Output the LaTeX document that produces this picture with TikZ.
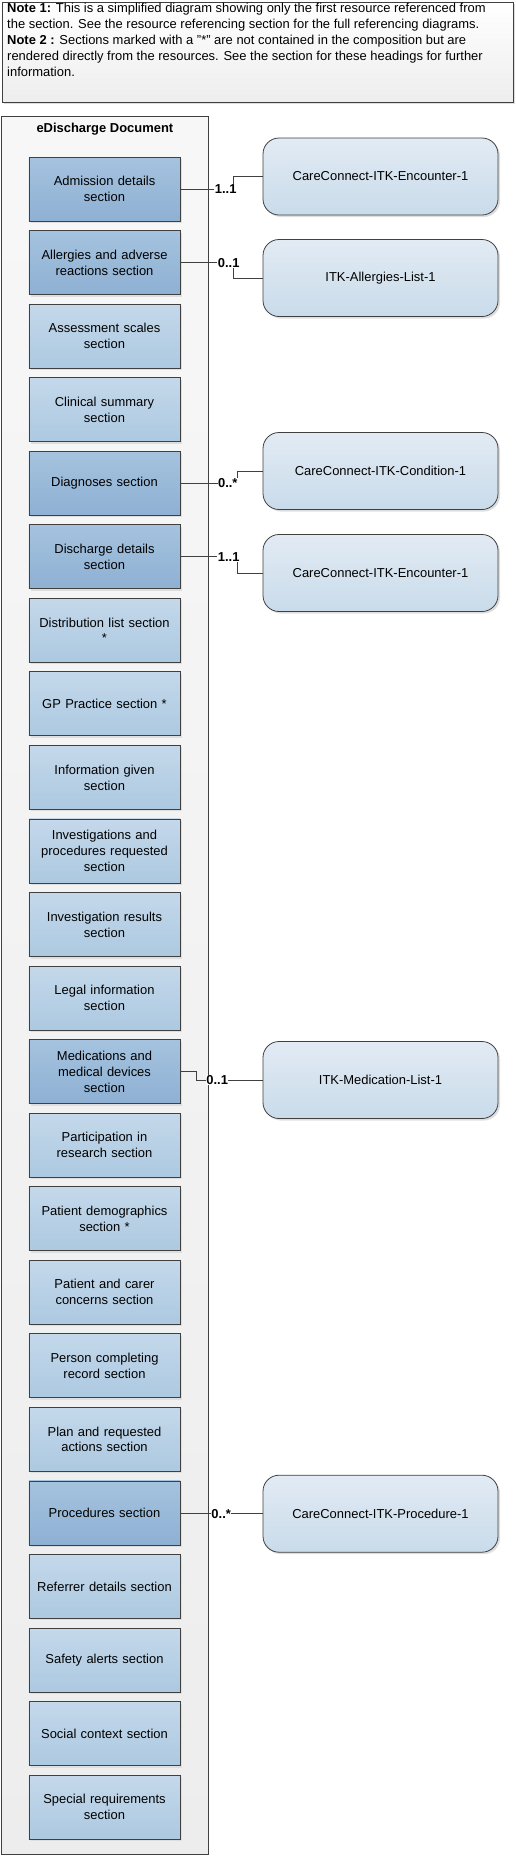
\documentclass[tikz,border=0pt]{standalone}
\usepackage{fontspec}
\setmainfont{Liberation Sans}
\usepackage{tikz}
\usetikzlibrary{positioning,shadows}
\definecolor{edline}{HTML}{404040}
\definecolor{secdarktop}{HTML}{A5C3DF}
\definecolor{secdarkbot}{HTML}{8EB0D3}
\definecolor{seclighttop}{HTML}{C4D8EA}
\definecolor{seclightbot}{HTML}{ACC9E1}
\definecolor{restop}{HTML}{E2EBF4}
\definecolor{resbot}{HTML}{C9DBEA}

\begin{document}
\begin{tikzpicture}[
    x=1bp, y=-1bp,
    font=\fontsize{13}{16}\selectfont,
    node distance=8.75bp,
    shade/.style={drop shadow={shadow xshift=2bp, shadow yshift=-2bp, fill=black!13, opacity=1}},
    notebox/.style={draw=edline, line width=0.8bp, top color=white, bottom color=black!7, shade,
                minimum width=511bp, minimum height=100bp, inner sep=0pt},
    docbox/.style={draw=edline, line width=0.8bp, top color=black!3, bottom color=black!7,
                minimum width=207bp, minimum height=1738bp, inner sep=0pt},
    secbox/.style={draw=edline, line width=0.8bp, top color=seclighttop, bottom color=seclightbot, shade,
                align=center, minimum width=151bp, minimum height=64bp, text width=145bp, inner sep=2bp},
    secref/.style={secbox, top color=secdarktop, bottom color=secdarkbot},
    resbox/.style={draw=edline, line width=0.8bp, rounded corners=16bp, top color=restop, bottom color=resbot,
                shade, align=center, minimum width=235bp, minimum height=77bp},
    link/.style={draw=edline, line width=0.8bp},
    mult/.style={font=\fontsize{13}{14}\bfseries, fill=white, inner sep=0.5bp}
  ]
    \useasboundingbox (0,0) rectangle (516,1857);
    % notes
    \node[notebox, anchor=north west] (note) at (2,2) {};
    \node[anchor=north west, align=left, inner sep=0pt] (notetxt) at (7,3)
      {\textbf{Note 1:} This is a simplified diagram showing only the first resource referenced from\\
       the section. See the resource referencing section for the full referencing diagrams.\\
       \textbf{Note 2 :} Sections marked with a "*" are not contained in the composition but are\\
       rendered directly from the resources. See the section for these headings for further\\
       information.};
    % document and its sections
    \node[docbox, anchor=north west] (doc) at (1,116) {};
    \node[font=\fontsize{13}{16}\bfseries, below=4bp of doc.north] (doctitle) {eDischarge Document};
    \node[secref] (adm) at (104.5,189) {Admission details\\section};
    \node[secref, below=of adm] (allergy) {Allergies and adverse\\reactions section};
    \node[secbox, below=of allergy] (assess) {Assessment scales\\section};
    \node[secbox, below=of assess] (clinical) {Clinical summary\\section};
    \node[secref, below=of clinical] (diag) {Diagnoses section};
    \node[secref, below=of diag] (disch) {Discharge details\\section};
    \node[secbox, below=of disch] (distrib) {Distribution list section\\{}*};
    \node[secbox, below=of distrib] (gp) {GP Practice section *};
    \node[secbox, below=of gp] (info) {Information given\\section};
    \node[secbox, below=of info] (invreq) {Investigations and\\procedures requested\\section};
    \node[secbox, below=of invreq] (invres) {Investigation results\\section};
    \node[secbox, below=of invres] (legal) {Legal information\\section};
    \node[secref, below=of legal] (med) {Medications and\\medical devices\\section};
    \node[secbox, below=of med] (research) {Participation in\\research section};
    \node[secbox, below=of research] (demog) {Patient demographics\\section *};
    \node[secbox, below=of demog] (carer) {Patient and carer\\concerns section};
    \node[secbox, below=of carer] (person) {Person completing\\record section};
    \node[secbox, below=of person] (plan) {Plan and requested\\actions section};
    \node[secref, below=of plan] (proc) {Procedures section};
    \node[secbox, below=of proc] (referrer) {Referrer details section};
    \node[secbox, below=of referrer] (safety) {Safety alerts section};
    \node[secbox, below=of safety] (social) {Social context section};
    \node[secbox, below=of social] (special) {Special requirements\\section};
    % referenced resources
    \node[resbox] (enc1) at (380.5,176.5) {CareConnect-ITK-Encounter-1};
    \node[resbox] (allist) at (380.5,278) {ITK-Allergies-List-1};
    \node[resbox] (cond) at (380.5,471) {CareConnect-ITK-Condition-1};
    \node[resbox] (enc2) at (380.5,573) {CareConnect-ITK-Encounter-1};
    \node[resbox] (medlist) at (380.5,1080) {ITK-Medication-List-1};
    \node[resbox] (procres) at (380.5,1513.7) {CareConnect-ITK-Procedure-1};
    % links
    \draw[link] (adm.east) -- ++(53,0) node[mult, anchor=east, xshift=4bp] (m1) {1..1} |- (enc1.west);
    \draw[link] (allergy.east) -- ++(53,0) node[mult, anchor=east, xshift=7bp] (m2) {0..1} |- (allist.west);
    \draw[link] (diag.east) -- ++(57,0) node[mult, anchor=east, xshift=1bp] (m3) {0..*} |- (cond.west);
    \draw[link] (disch.east) -- ++(57,0) node[mult, anchor=east, xshift=3bp] (m4) {1..1} |- (enc2.west);
    \draw[link] (med.east) -- ++(16,0) |- (medlist.west) node[mult, pos=0.657] (m5) {0..1};
    \draw[link] (proc.east) -- ++(20,0) |- (procres.west) node[mult, pos=0.667] (m6) {0..*};
  \end{tikzpicture}
\end{document}
